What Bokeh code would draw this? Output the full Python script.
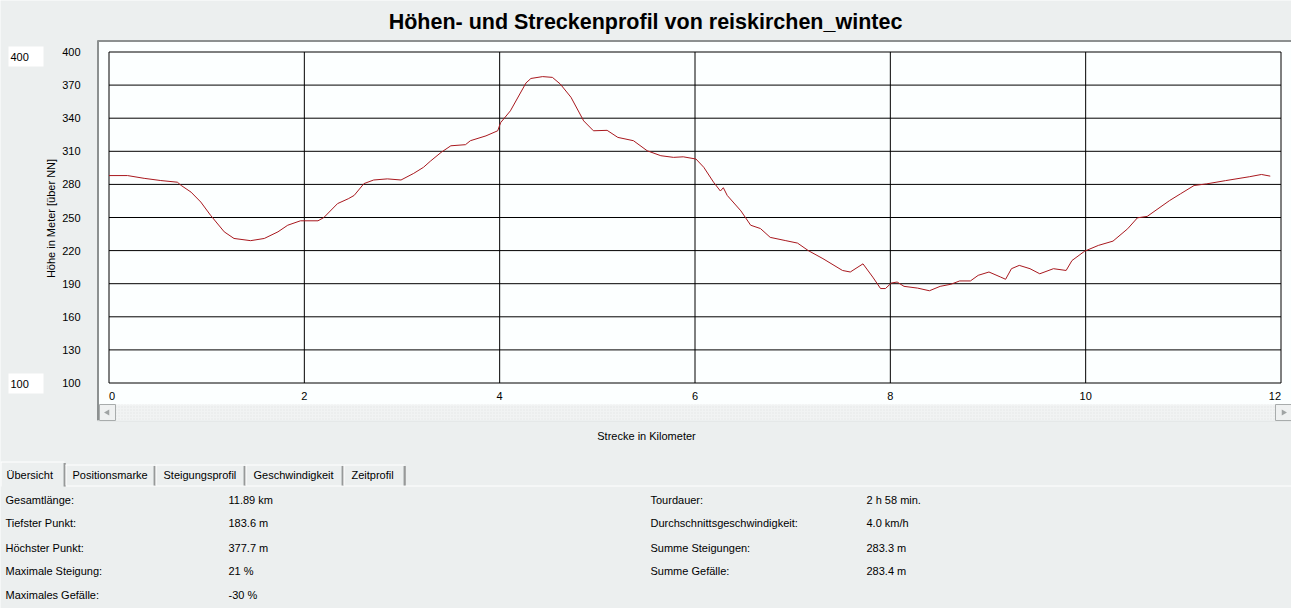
import math
from bokeh.plotting import figure
from bokeh.models import Range1d
from bokeh.core.properties import value
from bokeh.embed import file_html
from bokeh.resources import INLINE

# ---------------- data ----------------
title = "Höhen- und Streckenprofil von reiskirchen_wintec"
x_label = "Strecke in Kilometer"
y_label = "Höhe in Meter [über NN]"

dist_km = [0.00, 0.19, 0.36, 0.53, 0.70, 0.74, 0.84, 0.94, 1.04, 1.18,
           1.28, 1.45, 1.59, 1.73, 1.83, 1.96, 2.14, 2.20, 2.34, 2.45,
           2.51, 2.61, 2.71, 2.85, 2.99, 3.12, 3.22, 3.29, 3.40, 3.50,
           3.65, 3.70, 3.86, 3.98, 4.01, 4.11, 4.27, 4.32, 4.44, 4.54,
           4.62, 4.73, 4.86, 4.96, 5.10, 5.21, 5.37, 5.51, 5.65, 5.78,
           5.88, 6.01, 6.09, 6.19, 6.26, 6.29, 6.33, 6.47, 6.57, 6.67,
           6.77, 6.93, 7.05, 7.16, 7.31, 7.51, 7.59, 7.72, 7.82, 7.90,
           7.95, 8.01, 8.07, 8.14, 8.28, 8.40, 8.51, 8.62, 8.71, 8.82,
           8.90, 9.01, 9.13, 9.18, 9.24, 9.32, 9.43, 9.53, 9.67, 9.80,
           9.86, 9.99, 10.13, 10.28, 10.43, 10.53, 10.63, 10.86, 10.97, 11.11,
           11.24, 11.43, 11.68, 11.80, 11.89]
elev_m = [288.0, 288.0, 285.5, 283.5, 282.0, 279.0, 273.0, 264.0, 252.0, 237.0,
          231.0, 229.0, 231.0, 237.0, 243.0, 247.0, 247.0, 250.0, 262.6, 267.0,
          270.0, 280.7, 284.0, 285.0, 284.0, 290.0, 295.5, 301.0, 309.0, 315.0,
          316.0, 319.6, 324.0, 328.6, 336.0, 346.7, 372.0, 376.0, 377.7, 377.0,
          371.0, 359.0, 337.6, 328.6, 329.0, 322.6, 319.6, 310.5, 306.0, 304.5,
          305.0, 303.0, 295.5, 282.0, 274.0, 277.0, 270.0, 256.0, 243.0, 240.0,
          232.0, 229.0, 226.8, 220.0, 212.7, 202.0, 200.6, 208.0, 196.0, 185.6,
          185.6, 190.6, 191.5, 187.6, 186.0, 183.6, 187.6, 189.5, 192.5, 192.5,
          197.6, 200.6, 196.0, 194.0, 203.6, 206.6, 203.6, 199.0, 203.6, 202.0,
          211.0, 219.5, 224.7, 228.6, 239.8, 249.7, 251.0, 265.4, 271.4, 279.0,
          280.5, 283.4, 287.0, 289.0, 287.5]

x_ticks = [0, 2, 4, 6, 8, 10, 12]
x_tick_labels = ["0", "2", "4", "6", "8", "10", "12"]
y_ticks = [100, 130, 160, 190, 220, 250, 280, 310, 340, 370, 400]
y_tick_labels = ["100", "130", "160", "190", "220", "250", "280", "310", "340", "370", "400"]

tab_names = ["Übersicht", "Positionsmarke", "Steigungsprofil", "Geschwindigkeit", "Zeitprofil"]

stats_left_labels = ["Gesamtlänge:", "Tiefster Punkt:", "Höchster Punkt:",
                     "Maximale Steigung:", "Maximales Gefälle:"]
stats_left_values = ["11.89 km", "183.6 m", "377.7 m", "21 %", "-30 %"]
stats_right_labels = ["Tourdauer:", "Durchschnittsgeschwindigkeit:",
                      "Summe Steigungen:", "Summe Gefälle:"]
stats_right_values = ["2 h 58 min.", "4.0 km/h", "283.3 m", "283.4 m"]

# ---------------- layout (reference pixel coordinates) ----------------
BG = "#ECEFEF"
PANEL = "#FCFFFF"
FONT = value("Liberation Sans")
FS = value("11px")

PX_L, PX_R = 108.5, 1280.5      # plot frame left/right (px)
PY_T, PY_B = 51.5, 382.5        # plot frame top/bottom (px)
X0, X1 = x_ticks[0], x_ticks[-1]
Y0, Y1 = y_ticks[0], y_ticks[-1]

CAN_L, CAN_R, CAN_T, CAN_B = 0, 1291, 0, 608

p = figure(width=CAN_R - CAN_L, height=CAN_B - CAN_T,
           x_range=Range1d(CAN_L, CAN_R), y_range=Range1d(CAN_B, CAN_T),
           x_axis_type=None, y_axis_type=None,
           output_backend="svg", toolbar_location=None, min_border=0)
p.grid.visible = False
p.outline_line_color = None
p.background_fill_color = BG
p.border_fill_color = BG

kx = (X1 - X0) / (PX_R - PX_L)
ky = (Y1 - Y0) / (PY_B - PY_T)
p.extra_x_ranges = {"km": Range1d(X0 - (PX_L - CAN_L) * kx, X1 + (CAN_R - PX_R) * kx)}
p.extra_y_ranges = {"m": Range1d(Y0 - (CAN_B - PY_B) * ky, Y1 + (PY_T - CAN_T) * ky)}

# title
p.text(x=[645], y=[21], text=[title], text_font=value("Liberation Sans"),
       text_font_style="bold", text_font_size=value("21.5px"),
       text_align="center", text_baseline="middle", text_color="#000000")

# white chart panel with sunken border
p.quad(left=[97], right=[1291], top=[40], bottom=[420], fill_color=PANEL, line_color=None)
p.segment(x0=[97], y0=[40.5], x1=[1291], y1=[40.5], line_color="#8C9090", line_width=2)
p.segment(x0=[97.5], y0=[40], x1=[97.5], y1=[420], line_color="#8C9090", line_width=2)
p.segment(x0=[97], y0=[420.5], x1=[1291], y1=[420.5], line_color="#DDE1E1", line_width=1)

# scrollbar
p.quad(left=[99], right=[1291], top=[404], bottom=[420], fill_color="#F1F3F3",
       line_color=None, hatch_pattern="dot", hatch_color="#E2E5E5", hatch_scale=3)
for bl, br in [(99, 115), (1275, 1291)]:
    p.quad(left=[bl], right=[br], top=[404], bottom=[420], fill_color="#EFF1F1",
           line_color="#A8ACAC", line_width=1)
p.scatter(x=[107, 1283], y=[412, 412], marker="triangle", size=6,
          angle=[math.pi / 2, -math.pi / 2], fill_color="#A0A4A4", line_color=None)

# grid lines
p.segment(x0=x_ticks[1:-1], y0=[Y0] * (len(x_ticks) - 2), x1=x_ticks[1:-1], y1=[Y1] * (len(x_ticks) - 2),
          x_range_name="km", y_range_name="m", line_color="#000000", line_width=1)
p.segment(x0=[X0] * (len(y_ticks) - 2), y0=y_ticks[1:-1], x1=[X1] * (len(y_ticks) - 2), y1=y_ticks[1:-1],
          x_range_name="km", y_range_name="m", line_color="#000000", line_width=1)
p.quad(left=[X0], right=[X1], bottom=[Y0], top=[Y1], fill_color=None,
       line_color="#000000", line_width=1, x_range_name="km", y_range_name="m")

# elevation line
p.line(dist_km, elev_m, x_range_name="km", y_range_name="m",
       line_color="#A8181E", line_width=1)

# tick labels
aligns = ["left"] + ["center"] * (len(x_ticks) - 2) + ["right"]
p.text(x=x_ticks, y=[395] * len(x_ticks), text=x_tick_labels, x_range_name="km",
       text_font=FONT, text_font_size=FS, text_align=aligns, text_baseline="middle",
       text_color="#000000")
p.text(x=[80] * len(y_ticks), y=y_ticks, text=y_tick_labels, y_range_name="m",
       text_font=FONT, text_font_size=FS, text_align="right", text_baseline="middle",
       text_color="#000000")

# min/max boxes
p.quad(left=[8, 8], right=[43, 43], top=[46, 373], bottom=[66, 393], fill_color="#FFFFFF", line_color=None)
p.text(x=[10, 10], y=[56, 383], text=[y_tick_labels[-1], y_tick_labels[0]],
       text_font=FONT, text_font_size=FS, text_align="left", text_baseline="middle",
       text_color="#000000")

# axis titles
p.text(x=[50], y=[218], text=[y_label], angle=math.pi / 2, text_font=FONT,
       text_font_size=value("11px"), text_align="center", text_baseline="middle",
       text_color="#000000")
p.text(x=[646], y=[435], text=[x_label], text_font=FONT, text_font_size=FS,
       text_align="center", text_baseline="middle", text_color="#000000")

# tabs
tab_edges = [0, 65, 155, 245, 343, 405]
tab_text_x = [6, 72, 163, 253, 351]
p.segment(x0=[65], y0=[485.5], x1=[1291], y1=[485.5], line_color="#FFFFFF", line_width=1)
for i, name in enumerate(tab_names):
    l, r = tab_edges[i], tab_edges[i + 1]
    top = 461.5 if i == 0 else 464.5
    bottom = 486 if i == 0 else 485
    p.segment(x0=[l + 0.5, l], y0=[bottom, top], x1=[l + 0.5, r - 1], y1=[top, top],
              line_color="#FFFFFF", line_width=1)
    p.segment(x0=[r - 1.5, r - 0.5], y0=[top + 1, top + 1], x1=[r - 1.5, r - 0.5], y1=[bottom, bottom],
              line_color=["#A0A4A4", "#696969"], line_width=1)
    p.text(x=[tab_text_x[i]], y=[474], text=[name], text_font=FONT, text_font_size=FS,
           text_align="left", text_baseline="middle", text_color="#000000")

# statistics
rows_y = [499, 522, 547, 570, 594]
p.text(x=[5] * len(stats_left_labels), y=rows_y[:len(stats_left_labels)], text=stats_left_labels,
       text_font=FONT, text_font_size=FS, text_align="left", text_baseline="middle", text_color="#000000")
p.text(x=[228] * len(stats_left_values), y=rows_y[:len(stats_left_values)], text=stats_left_values,
       text_font=FONT, text_font_size=FS, text_align="left", text_baseline="middle", text_color="#000000")
p.text(x=[650] * len(stats_right_labels), y=rows_y[:len(stats_right_labels)], text=stats_right_labels,
       text_font=FONT, text_font_size=FS, text_align="left", text_baseline="middle", text_color="#000000")
p.text(x=[866] * len(stats_right_values), y=rows_y[:len(stats_right_values)], text=stats_right_values,
       text_font=FONT, text_font_size=FS, text_align="left", text_baseline="middle", text_color="#000000")

open("out.html", "w").write(file_html(p, INLINE))
